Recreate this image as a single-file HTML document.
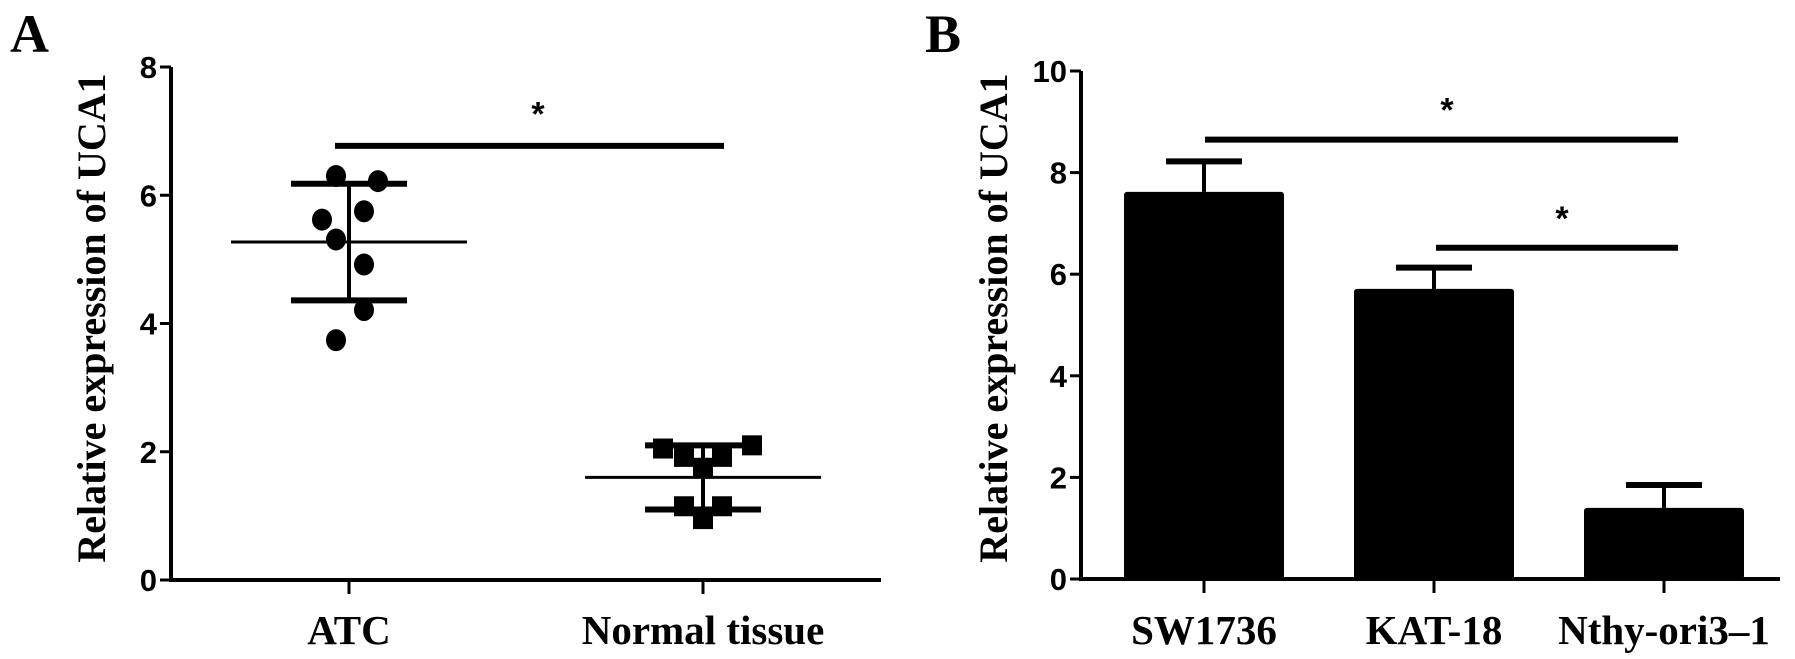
<!DOCTYPE html>
<html><head><meta charset="utf-8"><style>
html,body{margin:0;padding:0;background:#fff;}
svg{display:block;}
.tk{font-family:"Liberation Sans",sans-serif;font-weight:bold;font-size:31px;}
.lb{font-family:"Liberation Serif",serif;font-weight:bold;font-size:40px;}
.xl{font-family:"Liberation Serif",serif;font-weight:bold;font-size:41px;}
.st{font-family:"Liberation Sans",sans-serif;font-weight:bold;font-size:34px;}
</style></head><body>
<svg id="fig" width="1795" height="659" viewBox="0 0 1795 659">
<text x="10" y="52" style="font-family:'Liberation Serif',serif;font-weight:bold;font-size:54px">A</text>
<text x="925" y="52" style="font-family:'Liberation Serif',serif;font-weight:bold;font-size:54px">B</text>
<g id="ga"></g>
<g id="gb"></g>
</svg>
<script>
const NS='http://www.w3.org/2000/svg';
// Panel A data
const aCategories=['ATC','Normal tissue'];
const aTicks=[0,2,4,6,8];
const atcPoints=[6.3,6.22,5.62,5.75,5.31,4.92,4.21,3.74];
const normalPoints=[2.05,2.1,1.92,1.92,1.75,1.15,1.15,0.95];
const aMeans=[5.27,1.6];
const aSD=[0.91,0.5];
// Panel B data
const bCategories=['SW1736','KAT-18','Nthy-ori3\u20131'];
const bTicks=[0,2,4,6,8,10];
const bValues=[7.62,5.71,1.4];
const bErr=[0.6,0.42,0.45];

function mk(p,tag,at){const e=document.createElementNS(NS,tag);for(const k in at)e.setAttribute(k,at[k]);p.appendChild(e);return e;}

// ---------- Panel A ----------
const ga=document.getElementById('ga');
const aX0=171,aX1=881,aY0=580,aY1=67,aMax=8;
const ay=v=>aY0-(v/aMax)*(aY0-aY1);
const aCx=[349,703];
const ax=i=>aCx[i];
let e=mk(ga,'line',{x1:aX0,y1:aY0,x2:aX0,y2:aY1,stroke:'#000','stroke-width':4});

e=mk(ga,'line',{x1:aX0-2,y1:aY0,x2:aX1,y2:aY0,stroke:'#000','stroke-width':4});

aTicks.forEach(t=>{
  const l=mk(ga,'line',{x1:aX0-11,y1:ay(t),x2:aX0,y2:ay(t),stroke:'#000','stroke-width':3});
  
  const tx=mk(ga,'text',{x:aX0-14,y:ay(t)+11,'text-anchor':'end',class:'tk'});tx.textContent=t;
  
});
aCategories.forEach((c,i)=>{
  const l=mk(ga,'line',{x1:ax(i),y1:aY0,x2:ax(i),y2:aY0+14,stroke:'#000','stroke-width':3});
  
  const tx=mk(ga,'text',{x:ax(i),y:644,'text-anchor':'middle',class:'xl'});tx.textContent=c;
  
});
e=mk(ga,'text',{x:0,y:0,'text-anchor':'middle',class:'lb',transform:'translate(105,318) rotate(-90)'});
e.textContent='Relative expression of UCA1';

const offs=[-13,29,-27,15,-13,15,15,-13];
atcPoints.forEach((v,j)=>{
  const c=mk(ga,'ellipse',{cx:ax(0)+offs[j],cy:ay(v),rx:10,ry:11,fill:'#000'});
  
});
const offsN=[-40,49,-19,19,0,-19,19,0];
normalPoints.forEach((v,j)=>{
  const r=mk(ga,'rect',{x:ax(1)+offsN[j]-10,y:ay(v)-10,width:20,height:20,fill:'#000'});
  
});
aMeans.forEach((m,i)=>{
  const x=ax(i);
  let l=mk(ga,'line',{x1:x-118,y1:ay(m),x2:x+118,y2:ay(m),stroke:'#000','stroke-width':3});
  
  l=mk(ga,'line',{x1:x,y1:ay(m+aSD[i]),x2:x,y2:ay(m-aSD[i]),stroke:'#000','stroke-width':4});
  
  [m+aSD[i],m-aSD[i]].forEach(v=>{
    const c=mk(ga,'line',{x1:x-58,y1:ay(v),x2:x+58,y2:ay(v),stroke:'#000','stroke-width':6});
    
  });
});
e=mk(ga,'line',{x1:335,y1:ay(6.77),x2:724,y2:ay(6.77),stroke:'#000','stroke-width':6});

e=mk(ga,'text',{x:538,y:ay(7.35)+17,'text-anchor':'middle',class:'st'});e.textContent='*';


// ---------- Panel B ----------
const gb=document.getElementById('gb');
const bX0=1081,bX1=1780,bY0=579,bY1=71,bMax=10;
const by=v=>bY0-(v/bMax)*(bY0-bY1);
const bCx=[1204,1434,1664];
const bx=i=>bCx[i];
const bw=160;
e=mk(gb,'line',{x1:bX0,y1:bY0,x2:bX0,y2:bY1,stroke:'#000','stroke-width':4});

e=mk(gb,'line',{x1:bX0-2,y1:bY0,x2:bX1,y2:bY0,stroke:'#000','stroke-width':4});

bTicks.forEach(t=>{
  const l=mk(gb,'line',{x1:bX0-11,y1:by(t),x2:bX0,y2:by(t),stroke:'#000','stroke-width':3});
  
  const tx=mk(gb,'text',{x:bX0-14,y:by(t)+11,'text-anchor':'end',class:'tk'});tx.textContent=t;
  
});
bCategories.forEach((c,i)=>{
  const l=mk(gb,'line',{x1:bx(i),y1:bY0,x2:bx(i),y2:bY0+14,stroke:'#000','stroke-width':3});
  
  const tx=mk(gb,'text',{x:bx(i),y:644,'text-anchor':'middle',class:'xl'});tx.textContent=c;
  
  const v=bValues[i];
  const ln=mk(gb,'line',{x1:bx(i),y1:by(v),x2:bx(i),y2:by(v+bErr[i]),stroke:'#000','stroke-width':4});
  
  const cp=mk(gb,'line',{x1:bx(i)-38,y1:by(v+bErr[i]),x2:bx(i)+38,y2:by(v+bErr[i]),stroke:'#000','stroke-width':6});
  
  const r=mk(gb,'rect',{x:bx(i)-bw/2,y:by(v),width:bw,height:bY0-by(v),fill:'#000',rx:3});
  
});
e=mk(gb,'text',{x:0,y:0,'text-anchor':'middle',class:'lb',transform:'translate(1007,318) rotate(-90)'});
e.textContent='Relative expression of UCA1';

e=mk(gb,'line',{x1:1205,y1:by(8.65),x2:1678,y2:by(8.65),stroke:'#000','stroke-width':6});

e=mk(gb,'text',{x:1447,y:by(9.34)+17,'text-anchor':'middle',class:'st'});e.textContent='*';

e=mk(gb,'line',{x1:1436,y1:by(6.52),x2:1678,y2:by(6.52),stroke:'#000','stroke-width':6});

e=mk(gb,'text',{x:1562,y:by(7.2)+17,'text-anchor':'middle',class:'st'});e.textContent='*';

</script>
</body></html>
